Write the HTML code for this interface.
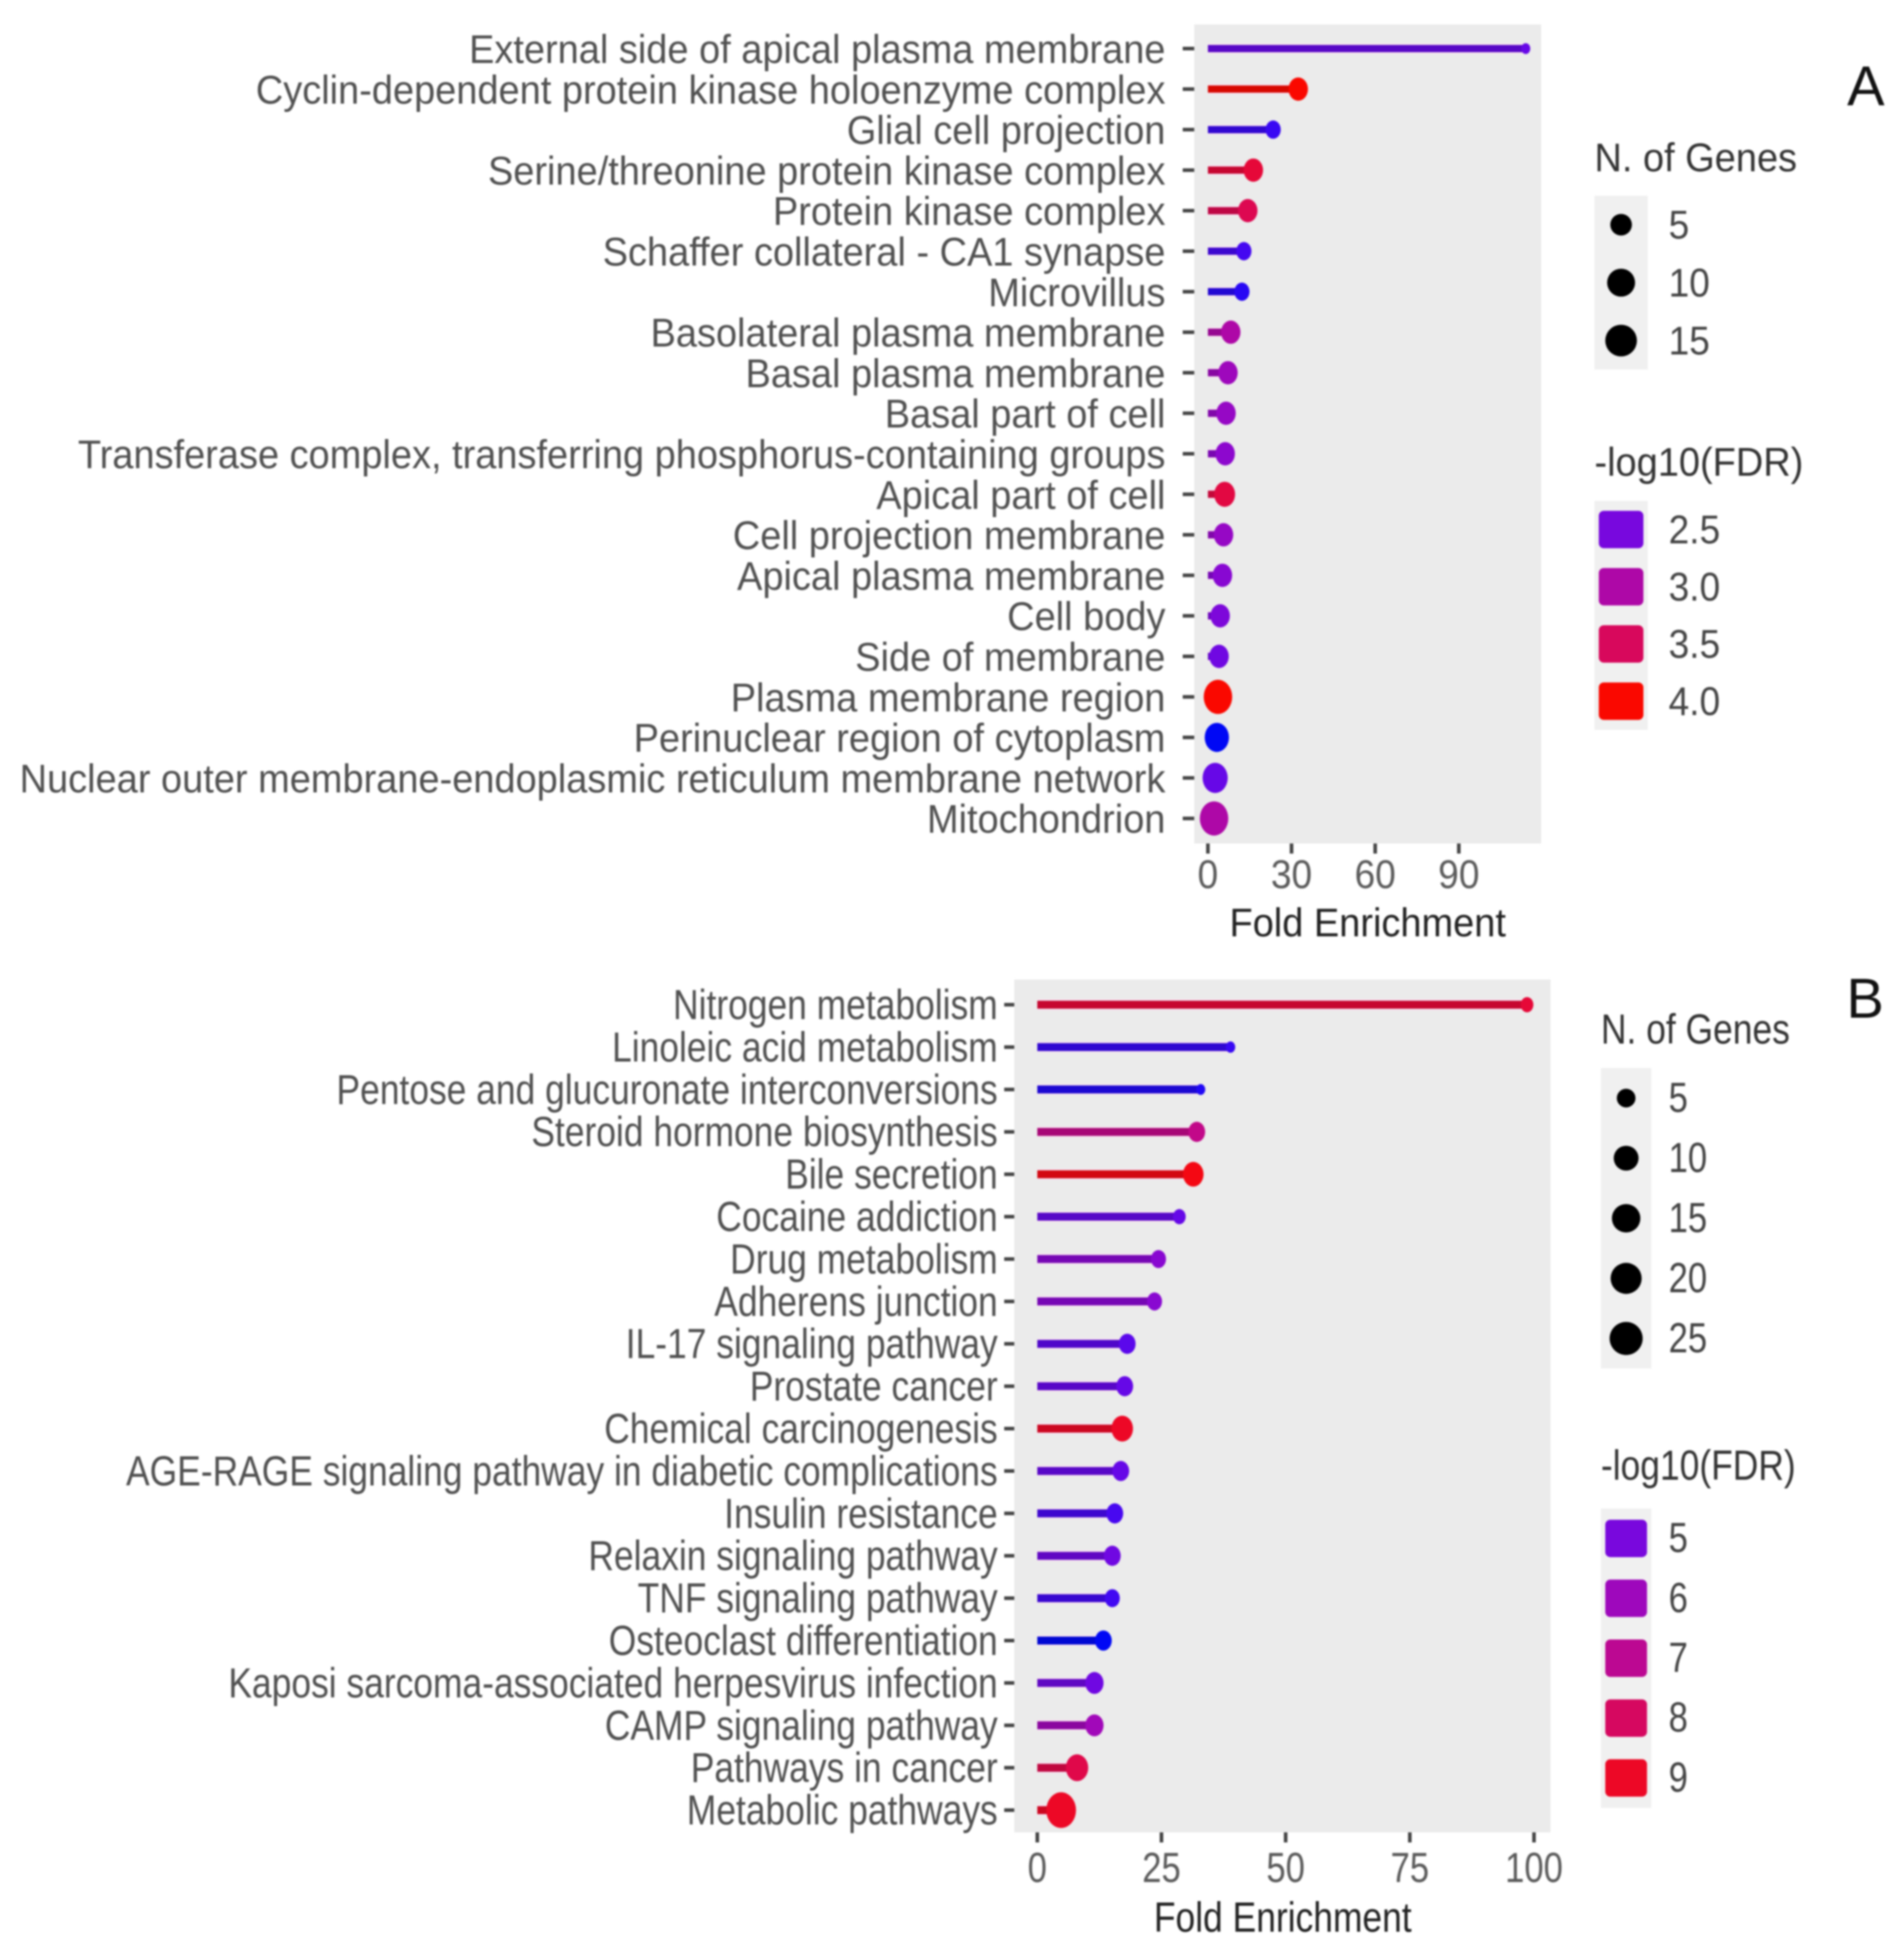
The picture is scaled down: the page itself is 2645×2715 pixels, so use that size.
<!DOCTYPE html>
<html lang="en">
<head>
<meta charset="utf-8">
<title>Fold enrichment lollipop charts</title>
<style>
html,body{margin:0;padding:0;background:#fff;}
#chart{display:block;width:2645px;height:2715px;filter:blur(1.3px);}
text{font-family:"Liberation Sans",sans-serif;}
</style>
</head>
<body>
<svg id="chart" xmlns="http://www.w3.org/2000/svg" width="2645" height="2715" viewBox="0 0 2645 2715"></svg>
<script>
const aTerms = ["External side of apical plasma membrane","Cyclin-dependent protein kinase holoenzyme complex","Glial cell projection","Serine/threonine protein kinase complex","Protein kinase complex","Schaffer collateral - CA1 synapse","Microvillus","Basolateral plasma membrane","Basal plasma membrane","Basal part of cell","Transferase complex, transferring phosphorus-containing groups","Apical part of cell","Cell projection membrane","Apical plasma membrane","Cell body","Side of membrane","Plasma membrane region","Perinuclear region of cytoplasm","Nuclear outer membrane-endoplasmic reticulum membrane network","Mitochondrion"];
const aFold = [114,32.4,23.4,16.3,14.3,12.9,12.2,8.2,7.2,6.5,6.2,6,5.6,5.2,4.4,4,3.6,3.2,2.6,2.2];
const aGenes = [1,5,3,5,5,3,3,5,5,5,5,6,5,5,5,5,15,9,10,15];
const aFdr = [2.38,4,2.15,3.7,3.57,2.2,2.1,3,2.83,2.75,2.67,3.65,2.75,2.63,2.54,2.44,4,2.05,2.38,3];
const aTicks = [0,30,60,90];
const aSizeBreaks = [5,10,15];
const aColorBreaks = [2.5,3,3.5,4];
const aColorLabels = ["2.5","3.0","3.5","4.0"];

const bTerms = ["Nitrogen metabolism","Linoleic acid metabolism","Pentose and glucuronate interconversions","Steroid hormone biosynthesis","Bile secretion","Cocaine addiction","Drug metabolism","Adherens junction","IL-17 signaling pathway","Prostate cancer","Chemical carcinogenesis","AGE-RAGE signaling pathway in diabetic complications","Insulin resistance","Relaxin signaling pathway","TNF signaling pathway","Osteoclast differentiation","Kaposi sarcoma-associated herpesvirus infection","CAMP signaling pathway","Pathways in cancer","Metabolic pathways"];
const bFold = [98.6,38.9,32.9,32.1,31.4,28.6,24.4,23.6,18.1,17.6,17.1,16.8,15.6,15.1,15.1,13.3,11.5,11.5,8,4.8];
const bGenes = [3,2,1,5,8,3,4,4,5,5,9,5,5,5,4,5,6,6,10,25];
const bFdr = [8.7,3.9,3.7,7.2,9.3,4.6,5.4,5.4,4.4,4.6,9,4.6,4.1,4.8,4,3.6,4.8,6.1,8.4,9];
const bTicks = [0,25,50,75,100];
const bSizeBreaks = [5,10,15,20,25];
const bColorBreaks = [5,6,7,8,9];
const bColorLabels = ["5","6","7","8","9"];

const svg = document.getElementById('chart');
const NS = 'http://www.w3.org/2000/svg';
function make(tag, attrs, parent, txt){
  const el = document.createElementNS(NS, tag);
  for (const k in attrs) el.setAttribute(k, attrs[k]);
  if (txt !== undefined) el.textContent = txt;
  (parent || svg).appendChild(el);
  return el;
}
function label(parent, x, y, txt, size, sx, anchor, fill){
  return make('text', {transform:'translate('+x+','+y+') scale('+sx+',1)', 'font-size':size, 'text-anchor':anchor, fill:fill}, parent, txt);
}
function colorOf(t, dark){
  t = Math.max(0, Math.min(1, t));
  const k = dark ? 0.86 : 1;
  return 'rgb('+Math.round(250*Math.sqrt(t)*k)+','+Math.round(8*k)+','+Math.round(245*(1-Math.pow(t,1.6))*k)+')';
}

function drawPanel(cfg){
  const g = make('g', {});
  
  
  const xScale = v => cfg.x0 + v * cfg.xUnit;
  const yScale = i => cfg.y0 + i * cfg.yStep;
  const colorScale = v => (v - cfg.cMin) / cfg.cSpan;
  const sizeScale = n => Math.max(7, cfg.ra * Math.log(n) + cfg.rb);

  const bg = make('rect', {x:cfg.left, y:cfg.top, width:cfg.right-cfg.left, height:cfg.bottom-cfg.top, fill:'#ebebeb'}, g);
  
  

  cfg.terms.forEach((term, i) => {
    const y = yScale(i);
    const tick = make('rect', {x:cfg.left-cfg.tickLen, y:y-2.5, width:cfg.tickLen, height:5, fill:'#444'}, g);
    
    
    const lab = label(g, cfg.labelX, y + cfg.labelDy, term, cfg.fontSize, cfg.sx, 'end', '#505050');
    
    
    const t = colorScale(cfg.fdr[i]);
    const halo = make('line', {x1:xScale(0), x2:xScale(cfg.fold[i]), y1:y, y2:y, stroke:'#ffd8f4', 'stroke-width':cfg.lineW+4, opacity:0.55}, g);
    
    
    const stem = make('line', {x1:xScale(0), x2:xScale(cfg.fold[i]), y1:y, y2:y, stroke:colorOf(t, true), 'stroke-width':cfg.lineW}, g);
    
    
    const r = sizeScale(cfg.genes[i]);
    const dot = make('ellipse', {cx:xScale(cfg.fold[i]), cy:y, rx:r*0.9, ry:r*1.08, fill:colorOf(t, false)}, g);
    
    
  });

  cfg.ticks.forEach(v => {
    const x = xScale(v);
    const tick = make('rect', {x:x-2.5, y:cfg.bottom, width:5, height:14, fill:'#444'}, g);
    
    
    const lab = label(g, x, cfg.tickBase, String(v), cfg.fontSize, cfg.tickSx, 'middle', '#5a5a5a');
    
    
  });

  const title = label(g, cfg.titleX, cfg.titleBase, 'Fold Enrichment', cfg.fontSize, cfg.sx, 'middle', '#222');
  
  

  // size legend
  const st = label(g, cfg.legX, cfg.sizeTitleBase, 'N. of Genes', cfg.fontSize, cfg.sx, 'start', '#333');
  
  
  const sBg = make('rect', {x:cfg.legX, y:cfg.sizeTop, width:cfg.keyW, height:cfg.sizeStep*cfg.sizeBreaks.length, fill:'#f0f0f0'}, g);
  
  
  cfg.sizeBreaks.forEach((n, i) => {
    const y = cfg.sizeTop + cfg.sizeStep * (i + 0.5);
    const d = make('circle', {cx:cfg.legX+cfg.keyW/2, cy:y, r:sizeScale(n), fill:'#000'}, g);
    
    
    const l = label(g, cfg.legLabelX, y + cfg.labelDy - 1, String(n), cfg.fontSize, cfg.tickSx, 'start', '#444');
    
    
  });

  // colour legend
  const ct = label(g, cfg.legX, cfg.colorTitleBase, '-log10(FDR)', cfg.fontSize, cfg.sx, 'start', '#333');
  
  
  const cBg = make('rect', {x:cfg.legX, y:cfg.colorTop, width:cfg.keyW, height:cfg.colorStep*cfg.colorBreaks.length, fill:'#f0f0f0'}, g);
  
  
  cfg.colorBreaks.forEach((v, i) => {
    const y = cfg.colorTop + cfg.colorStep * (i + 0.5);
    const s = make('rect', {x:cfg.legX+6, y:y-26, width:cfg.keyW-12, height:52, rx:7, fill:colorOf(colorScale(v), false)}, g);
    
    
    const l = label(g, cfg.legLabelX, y + cfg.labelDy - 1, cfg.colorLabels[i], cfg.fontSize, cfg.tickSx, 'start', '#444');
    
    
  });

  const tag = make('text', {x:cfg.tagX, y:cfg.tagY, 'font-size':78, fill:'#111', 'text-anchor':'middle'}, g, cfg.tag);
  
  
}

drawPanel({
  name:'panel-a', tag:'A', tagX:2592, tagY:146,
  terms:aTerms, fold:aFold, genes:aGenes, fdr:aFdr, ticks:aTicks,
  sizeBreaks:aSizeBreaks, colorBreaks:aColorBreaks, colorLabels:aColorLabels,
  left:1659, right:2141, top:34, bottom:1172,
  x0:1678, xUnit:3.873, y0:67.5, yStep:56.3,
  cMin:2.05, cSpan:1.95, ra:6.37, rb:4.75,
  lineW:10, tickLen:16, labelX:1619, labelDy:20, fontSize:56, sx:0.942, tickSx:0.92,
  tickBase:1234, titleX:1900, titleBase:1301,
  legX:2215, legLabelX:2318, keyW:74,
  sizeTitleBase:238, sizeTop:272, sizeStep:80.5,
  colorTitleBase:661, colorTop:696, colorStep:79.5
});

drawPanel({
  name:'panel-b', tag:'B', tagX:2591, tagY:1414,
  terms:bTerms, fold:bFold, genes:bGenes, fdr:bFdr, ticks:bTicks,
  sizeBreaks:bSizeBreaks, colorBreaks:bColorBreaks, colorLabels:bColorLabels,
  left:1409, right:2154, top:1361, bottom:2546,
  x0:1441, xUnit:6.9, y0:1396, yStep:58.9,
  cMin:3.6, cSpan:6, ra:6.2, rb:3,
  lineW:11, tickLen:14, labelX:1386, labelDy:20, fontSize:58, sx:0.848, tickSx:0.83,
  tickBase:2615, titleX:1782, titleBase:2684,
  legX:2224, legLabelX:2318, keyW:70,
  sizeTitleBase:1450, sizeTop:1484, sizeStep:83.5,
  colorTitleBase:2056, colorTop:2096, colorStep:83.2
});
</script>
</body>
</html>
